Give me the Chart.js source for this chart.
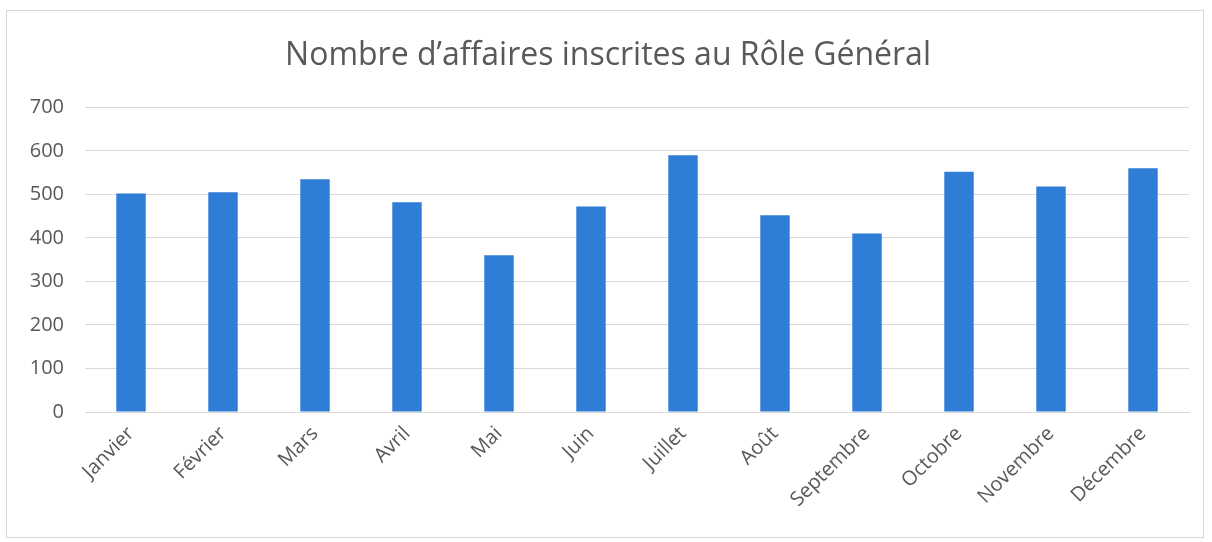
<!DOCTYPE html>
<html lang="fr">
<head>
  <meta charset="UTF-8">
  <title>Rôle Général</title>
  <script src="https://cdn.jsdelivr.net/npm/chart.js"></script>
  <style>
    body { margin: 0; background: #fff; }
    .cadre {
      position: absolute; left: 6px; top: 10px;
      width: 1196px; height: 526px;
      border: 1px solid #d6d6d6;
    }
  </style>
</head>
<body>
  <div class="cadre">
    <canvas id="grafico"></canvas>
  </div>
  <script>
    const mois = ['Janvier', 'Février', 'Mars', 'Avril', 'Mai', 'Juin', 'Juillet', 'Août', 'Septembre', 'Octobre', 'Novembre', 'Décembre'];
    const affaires = [502, 505, 535, 482, 360, 472, 590, 452, 410, 552, 518, 560];
    const ticksY = [0, 100, 200, 300, 400, 500, 600, 700];

    const cinza = '#595959';
    const fonte = "'Open Sans', Lato, sans-serif";

    const ctx = document.getElementById('grafico').getContext('2d');
    ctx.canvas.width = 1196;
    ctx.canvas.height = 526;

    new Chart(ctx, {
      type: 'bar',
      data: {
        labels: mois,
        datasets: [{
          label: 'Affaires',
          data: affaires,
          backgroundColor: '#2f7dd6',
          categoryPercentage: 1,
          barPercentage: 0.32
        }]
      },
      options: {
        responsive: false,
        animation: false,
        layout: { padding: { left: 20, right: 14, top: 0, bottom: 0 } },
        plugins: {
          legend: { display: false },
          tooltip: { enabled: false },
          title: {
            display: true,
            text: 'Nombre d’affaires inscrites au Rôle Général',
            color: cinza,
            font: { family: fonte, size: 32, weight: 'normal' },
            padding: { top: 26, bottom: 32 }
          }
        },
        scales: {
          y: {
            min: 0,
            max: 700,
            afterBuildTicks: axis => { axis.ticks = ticksY.map(v => ({ value: v })); },
            afterFit: axis => { axis.width = 58; },
            border: { display: false },
            grid: { color: '#d9d9d9', drawTicks: false },
            ticks: { color: cinza, padding: 21, font: { family: fonte, size: 20 } }
          },
          x: {
            afterFit: axis => { axis.height = 125; },
            border: { color: '#d9d9d9' },
            grid: { display: false, drawTicks: false },
            ticks: {
              color: cinza,
              padding: 10,
              maxRotation: 45,
              minRotation: 45,
              font: { family: fonte, size: 20 }
            }
          }
        }
      }
    });
  </script>
</body>
</html>
